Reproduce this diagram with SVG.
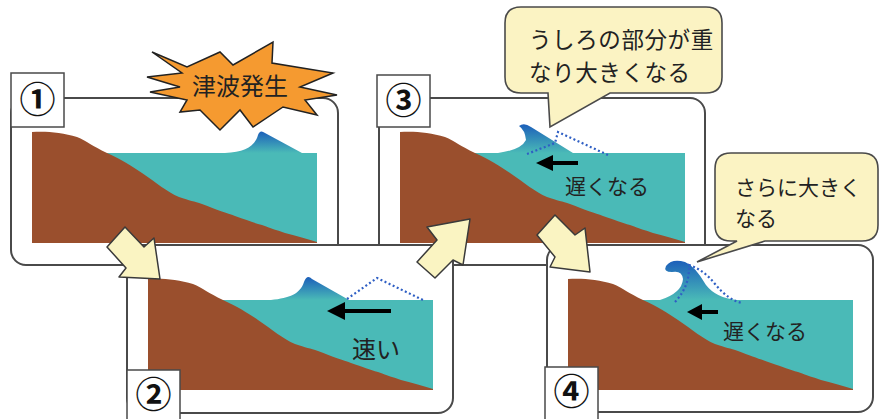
<svg xmlns="http://www.w3.org/2000/svg" xmlns:xlink="http://www.w3.org/1999/xlink" width="880" height="419" viewBox="0 0 880 419">
  <style>
    .frame { fill: #ffffff; stroke: #4a4a4a; stroke-width: 2; }
    .tag { fill: #ffffff; stroke: #4a4a4a; stroke-width: 1.5; }
    .num { font-family: "Noto Sans CJK JP", "Noto Sans", sans-serif; font-size: 36px; font-weight: bold; fill: #111; text-anchor: middle; }
    .land { fill: #9a4f2d; }
    .water { fill: #4abab7; }
    .wave { fill: url(#waveGrad); }
    .trace { fill: none; stroke: #2f5fc4; stroke-width: 2.2; stroke-dasharray: 2 2.5; }
    .flow { stroke: #000; stroke-width: 4; }
    .head { fill: #000; }
    .label { font-family: "Noto Sans CJK JP", "Noto Sans", sans-serif; font-size: 21px; fill: #222; }
    .bubble { fill: #fbf3c3; stroke: #4a4a4a; stroke-width: 1.6; }
    .step { fill: #faf4c2; stroke: #3a3a3a; stroke-width: 1.5; stroke-linejoin: round; }
  </style>
  <defs>
    <linearGradient id="waveGrad" x1="0" y1="0" x2="0" y2="1">
      <stop offset="0" stop-color="#1c5fba"/>
      <stop offset="1" stop-color="#4abab7"/>
    </linearGradient>
    <!-- cross-section of sea and sloping sea floor, local coordinates -->
    <g id="coast">
      <rect class="water" x="60" y="23" width="225" height="90"/>
      <path class="land" d="M0,2 C12,1 30,2 45,7 C55,11 60,16 75,23 C90,30 100,36 110,43 C125,53 135,62 147,67 C158,71 162,71 170,74 C185,80 195,83 203,86 C215,90 222,93 230,95 C240,99 245,100 253,103 C265,106 275,109 285,112 L285,113 L0,113 Z"/>
    </g>
  </defs>

  <!-- step 1 -->
  <g id="panel1">
    <rect class="frame" x="11" y="98" width="327" height="167" rx="15"/>
    <use xlink:href="#coast" x="32" y="130"/>
    <path class="wave" d="M225,153 C245,152 255,146 258,135 Q260,129 265,133 L302,153 Z"/>
    <rect class="tag" x="11" y="73" width="53" height="54"/>
    <text class="num" x="37.5" y="113">①</text>
  </g>

  <!-- tsunami burst -->
  <g id="burst">
    <polygon points="152,52 187,67 220,52 233,65 273,42 272,63 333,73 300,87 337,95 305,100 317,115 283,107 253,127 240,110 220,130 200,110 180,112 187,100 150,92 180,87 147,77 182,73" fill="#f59a30" stroke="#222" stroke-width="1.5" stroke-linejoin="miter"/>
    <text class="label" x="240" y="95" text-anchor="middle" style="font-size:24px">津波発生</text>
  </g>

  <!-- step 3 -->
  <g id="panel3">
    <rect class="frame" x="379" y="98" width="326" height="167" rx="15"/>
    <use xlink:href="#coast" x="400" y="130"/>
    <path class="wave" d="M498,153 Q521,150 526,140 Q525,130 519,126 Q524,122 531,127 L573,153 Z"/>
    <path class="trace" d="M527,154 L555,143 L558,132 L608,155"/>
    <line class="flow" x1="578" y1="163" x2="548" y2="163"/>
    <polygon class="head" points="536,163 553,155 553,171"/>
    <text class="label" x="565" y="194">遅くなる</text>
    <rect class="tag" x="377" y="75" width="53" height="52"/>
    <text class="num" x="403.5" y="114">③</text>
  </g>

  <!-- callout for step 3 -->
  <g id="note3">
    <path class="bubble" d="M521,7 H706 Q722,7 722,23 V77 Q722,93 706,93 H610 L550,127 L548,93 H521 Q505,93 505,77 V23 Q505,7 521,7 Z"/>
    <text class="label" style="font-size:22.5px;letter-spacing:0.6px"><tspan x="529" y="48">うしろの部分が重</tspan><tspan x="529" y="81">なり大きくなる</tspan></text>
  </g>

  <!-- step 2 -->
  <g id="panel2">
    <rect class="frame" x="127" y="245" width="326" height="168" rx="15"/>
    <use xlink:href="#coast" x="148" y="277"/>
    <path class="wave" d="M271,300 C290,298 300,294 304,282 Q307,274 312,279 L349,300 Z"/>
    <path class="trace" d="M347,299 L377,278 L423,300"/>
    <line class="flow" x1="391" y1="311" x2="340" y2="311"/>
    <polygon class="head" points="327,311 345,302 345,320"/>
    <text class="label" x="352" y="358" style="font-size:24px">速い</text>
    <rect class="tag" x="127" y="370" width="53" height="60"/>
    <text class="num" x="153.5" y="408">②</text>
  </g>

  <!-- step 4 -->
  <g id="panel4">
    <rect class="frame" x="547" y="245" width="326" height="167" rx="15"/>
    <use xlink:href="#coast" x="568" y="277"/>
    <path class="wave" d="M660,300 Q682,293 683,279 Q682,270 672,272 Q663,272 666,266 Q672,258 685,262 Q695,266 706,285 Q716,298 737,300 Z"/>
    <path class="trace" d="M675,302 Q690,286 689,265 Q704,270 715,284 Q728,300 742,303"/>
    <line class="flow" x1="718" y1="312" x2="698" y2="312"/>
    <polygon class="head" points="687,312 702,304 702,320"/>
    <text class="label" x="723" y="339">遅くなる</text>
    <rect class="tag" x="545" y="367" width="53" height="60"/>
    <text class="num" x="571.5" y="405">④</text>
  </g>

  <!-- callout for step 4 -->
  <g id="note4">
    <path class="bubble" d="M731,153 H862 Q878,153 878,169 V225 Q878,241 862,241 H765 L697,262 L737,241 H731 Q715,241 715,225 V169 Q715,153 731,153 Z"/>
    <text class="label"><tspan x="735" y="195">さらに大きく</tspan><tspan x="735" y="226">なる</tspan></text>
  </g>

  <!-- step-to-step arrows -->
  <g id="connectors">
    <polygon class="step" points="125,227 144,247 154,238 160,279 119,277 126,268 107,247"/>
    <polygon class="step" points="470,219 427,227 437,240 417,262 435,278 453,260 463,265"/>
    <polygon class="step" points="555,215 575,235 585,228 590,272 550,267 555,257 537,235"/>
  </g>
</svg>
